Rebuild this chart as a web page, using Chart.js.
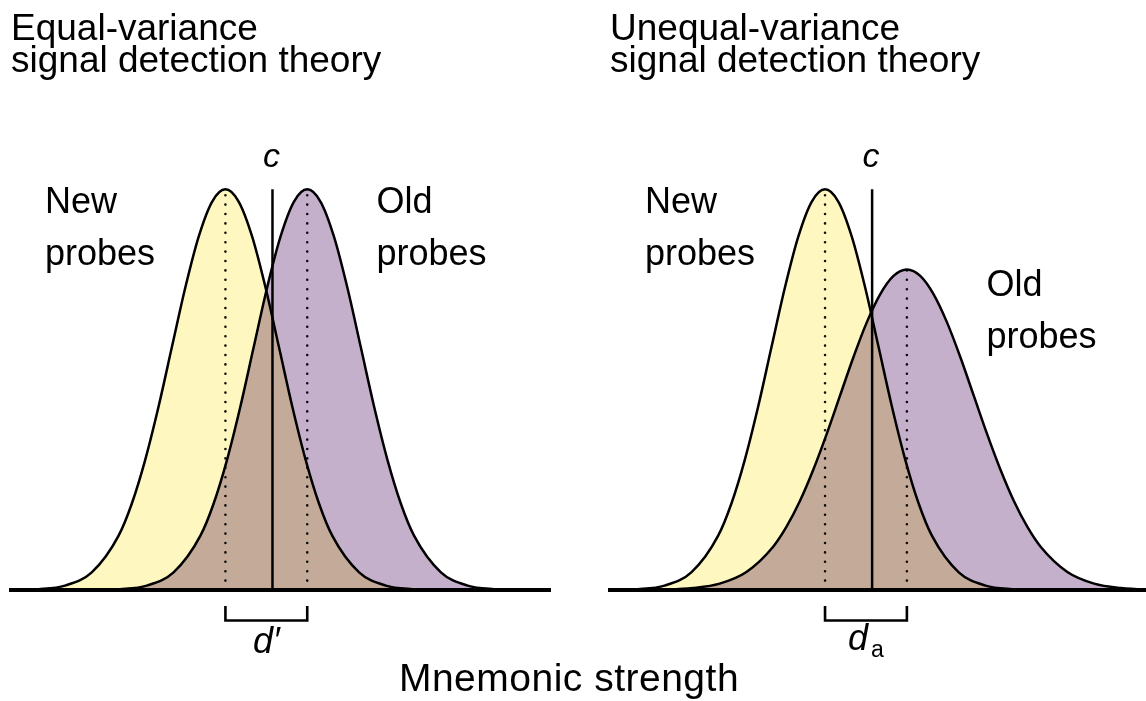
<!DOCTYPE html>
<html>
<head>
<meta charset="utf-8">
<script src="https://cdn.jsdelivr.net/npm/chart.js@4/dist/chart.umd.min.js"></script>
<style>
  body { margin: 0; background: #fff; }
  #wrap { position: relative; width: 1146px; height: 701px; overflow: hidden; }
  #wrap canvas { position: absolute; top: 0; }
  #xlabel {
    position: absolute; left: -4px; top: 657.5px; width: 1146px;
    text-align: center; font: 39px/39px "Liberation Sans", Arial, Helvetica, sans-serif;
    letter-spacing: 0.5px; color: #000;
  }
</style>
</head>
<body>
<div id="wrap">
  <canvas id="equalChart" width="600" height="701" style="left:0"></canvas>
  <canvas id="unequalChart" width="546" height="701" style="left:600px"></canvas>
  <div id="xlabel">Mnemonic strength</div>
</div>
<script>
// strength in units of the new-probe SD, heights relative to the new-probe peak
const newStrength = [-4, -3.5, -3, -2.5, -2, -1.75, -1.5, -1.25, -1, -0.75, -0.5, -0.25, 0,
    0.25, 0.5, 0.75, 1, 1.25, 1.5, 1.75, 2, 2.5, 3, 3.5, 4];
const newProbes = [0, 0.002, 0.011, 0.044, 0.135, 0.216, 0.325, 0.458, 0.607, 0.755, 0.882, 0.969, 1,
    0.969, 0.882, 0.755, 0.607, 0.458, 0.325, 0.216, 0.135, 0.044, 0.011, 0.002, 0];

const oldStrengthEqual = [-2.47, -1.97, -1.47, -0.97, -0.47, -0.22, 0.03, 0.28, 0.53, 0.78, 1.03, 1.28, 1.53,
    1.78, 2.03, 2.28, 2.53, 2.78, 3.03, 3.28, 3.53, 4.03, 4.53, 5.03, 5.53];
const oldProbesEqual = [0, 0.002, 0.011, 0.044, 0.135, 0.216, 0.325, 0.458, 0.607, 0.755, 0.882, 0.969, 1,
    0.969, 0.882, 0.755, 0.607, 0.458, 0.325, 0.216, 0.135, 0.044, 0.011, 0.002, 0];

const oldStrengthUnequal = [-3.47, -2.97, -2.47, -1.97, -1.47, -0.97, -0.72, -0.47, -0.22, 0.03, 0.28, 0.53, 0.78,
    1.03, 1.28, 1.53, 1.78, 2.03, 2.28, 2.53, 2.78, 3.03, 3.28, 3.53, 3.78, 4.03, 4.53, 5.03, 5.53, 6.03, 6.53];
const oldProbesUnequal = [0, 0.001, 0.005, 0.016, 0.045, 0.108, 0.158, 0.222, 0.3, 0.389, 0.485, 0.581, 0.668,
    0.738, 0.784, 0.8, 0.784, 0.738, 0.668, 0.581, 0.485, 0.389, 0.3, 0.222, 0.158, 0.108, 0.045, 0.016, 0.005, 0.001, 0];

const criterion = [0.88, 0.88];
const panelTitles = [
    ['Equal-variance', 'signal detection theory'],
    ['Unequal-variance', 'signal detection theory']
];

const FONT = '"Liberation Sans", Arial, Helvetica, sans-serif';
const YELLOW = 'rgb(254, 248, 192)';
const PURPLE = 'rgb(197, 176, 204)';

function toPoints(xs, ys) {
    return xs.map((x, i) => ({x: x, y: ys[i]}));
}

function peakOf(xs, ys) {
    const i = ys.indexOf(Math.max(...ys));
    return {x: xs[i], y: ys[i]};
}

// overlapping fills mix like the original (yellow x purple = brown)
const multiplyFills = {
    id: 'multiplyFills',
    beforeDatasetsDraw(chart) { chart.ctx.globalCompositeOperation = 'multiply'; },
    afterDatasetsDraw(chart) { chart.ctx.globalCompositeOperation = 'source-over'; }
};

// group labels, criterion label and the sensitivity bracket under the axis
const annotate = {
    id: 'annotate',
    afterDraw(chart, args, opts) {
        const ctx = chart.ctx;
        const x = chart.scales.x;
        const bottom = chart.chartArea.bottom;
        ctx.save();
        ctx.fillStyle = '#000';
        ctx.strokeStyle = '#000';
        ctx.textBaseline = 'alphabetic';

        ctx.font = '36px ' + FONT;
        ctx.textAlign = 'left';
        opts.labels.forEach(l => {
            l.text.forEach((t, i) => ctx.fillText(t, l.x, l.y + i * 52));
        });

        ctx.font = 'italic 34px ' + FONT;
        ctx.textAlign = 'center';
        ctx.fillText('c', x.getPixelForValue(opts.criterion) - 1, 167);

        const x0 = x.getPixelForValue(opts.from);
        const x1 = x.getPixelForValue(opts.to);
        ctx.lineWidth = 2.6;
        ctx.lineJoin = 'miter';
        ctx.beginPath();
        ctx.moveTo(x0, bottom + 16);
        ctx.lineTo(x0, bottom + 30.5);
        ctx.lineTo(x1, bottom + 30.5);
        ctx.lineTo(x1, bottom + 16);
        ctx.stroke();

        const mid = (x0 + x1) / 2;
        ctx.textAlign = 'left';
        ctx.font = 'italic 36px ' + FONT;
        const dW = ctx.measureText(opts.sens).width;
        let subW = 0;
        if (opts.sub) {
            ctx.font = '23px ' + FONT;
            subW = ctx.measureText(opts.sub).width + 3;
        }
        const start = mid - (dW + subW) / 2;
        ctx.font = 'italic 36px ' + FONT;
        ctx.fillText(opts.sens, start, bottom + opts.sensY);
        if (opts.sub) {
            ctx.font = '23px ' + FONT;
            ctx.fillText(opts.sub, start + dW + 3, bottom + opts.sensY + 7);
        }
        ctx.restore();
    }
};

function drawPanel(id, title, oldX, oldY, c, padding, annot) {
    const newPeak = peakOf(newStrength, newProbes);
    const oldPeak = peakOf(oldX, oldY);
    const curve = {
        borderColor: '#000',
        borderWidth: 2.5,
        fill: 'origin',
        cubicInterpolationMode: 'monotone',
        pointRadius: 0
    };
    const dotted = {
        borderColor: '#111',
        borderWidth: 2.6,
        borderDash: [0, 9.4],
        borderCapStyle: 'round',
        fill: false,
        pointRadius: 0
    };
    annot.criterion = c;
    annot.from = newPeak.x;
    annot.to = oldPeak.x;

    new Chart(document.getElementById(id), {
        type: 'line',
        data: {
            datasets: [
                Object.assign({label: 'New probes', data: toPoints(newStrength, newProbes), backgroundColor: YELLOW}, curve),
                Object.assign({label: 'Old probes', data: toPoints(oldX, oldY), backgroundColor: PURPLE}, curve),
                Object.assign({label: 'New mean', data: [{x: newPeak.x, y: 0}, {x: newPeak.x, y: newPeak.y}]}, dotted),
                Object.assign({label: 'Old mean', data: [{x: oldPeak.x, y: 0}, {x: oldPeak.x, y: oldPeak.y}]}, dotted),
                {label: 'c', data: [{x: c, y: 0}, {x: c, y: newPeak.y}], borderColor: '#000', borderWidth: 2.5, fill: false, pointRadius: 0}
            ]
        },
        options: {
            responsive: false,
            animation: false,
            layout: {padding: padding},
            scales: {
                x: {
                    type: 'linear',
                    min: padding.xmin,
                    max: padding.xmax,
                    grid: {display: false, drawTicks: false},
                    ticks: {display: false},
                    border: {display: true, color: '#000', width: 4, z: 1}
                },
                y: {min: 0, max: 1.1, display: false}
            },
            plugins: {
                legend: {display: false},
                tooltip: {enabled: false},
                title: {
                    display: true,
                    text: title,
                    align: 'start',
                    color: '#000',
                    font: {family: FONT, size: 37, weight: 'normal', lineHeight: '32.5px'},
                    padding: {top: 13.3, bottom: 71}
                },
                annotate: annot
            }
        },
        plugins: [multiplyFills, annotate]
    });
}

drawPanel('equalChart', panelTitles[0], oldStrengthEqual, oldProbesEqual, criterion[0],
    {left: 11, right: 50, top: 0, bottom: 111, xmin: -4.01, xmax: 6.07},
    {labels: [{text: ['New', 'probes'], x: 45, y: 213}, {text: ['Old', 'probes'], x: 376.5, y: 213}],
     sens: 'd\u2032', sub: '', sensY: 63.3});

drawPanel('unequalChart', panelTitles[1], oldStrengthUnequal, oldProbesUnequal, criterion[1],
    {left: 10, right: 0, top: 0, bottom: 111, xmin: -4.02, xmax: 6.0},
    {labels: [{text: ['New', 'probes'], x: 45, y: 213}, {text: ['Old', 'probes'], x: 386.5, y: 295.7}],
     sens: 'd', sub: 'a', sensY: 60});
</script>
</body>
</html>
